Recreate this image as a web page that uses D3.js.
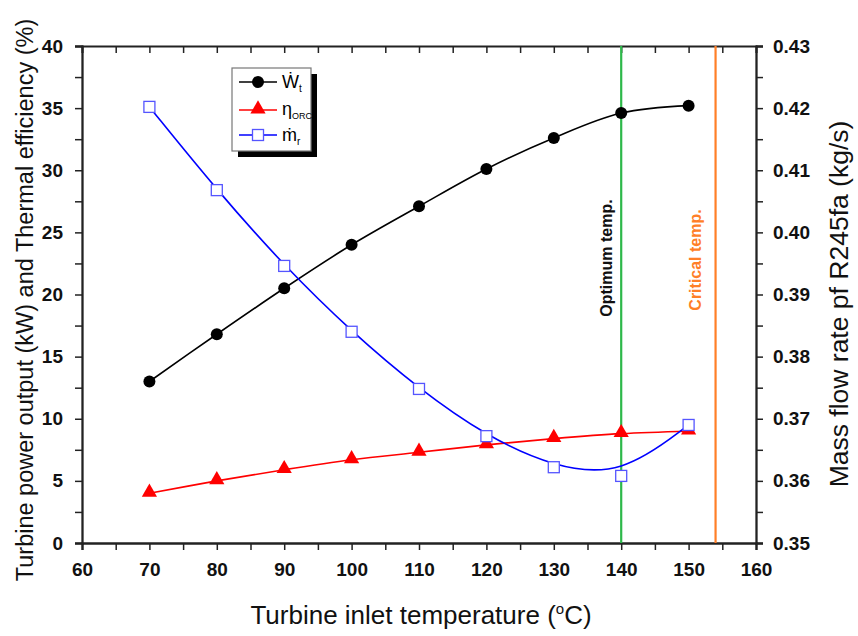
<!DOCTYPE html>
<html>
<head>
<meta charset="utf-8">
<script src="https://cdn.jsdelivr.net/npm/d3@7"></script>
<style>
  body { margin: 0; background: #fff; }
  svg text { font-family: "Liberation Sans", Arial, sans-serif; }
</style>
</head>
<body>
<div id="chart"></div>
<script>
const width = 858;
const height = 636;
const margin = {top: 46, right: 102, bottom: 93, left: 82};

// data
const temps = [70, 80, 90, 100, 110, 120, 130, 140, 150];
const power = [13.0, 16.8, 20.5, 24.0, 27.1, 30.1, 32.6, 34.6, 35.2];
const efficiency = [4.0, 5.0, 5.9, 6.7, 7.3, 7.9, 8.4, 8.8, 9.0];
const massFlow = [0.4202, 0.4068, 0.3946, 0.3840, 0.3748, 0.3672, 0.3622, 0.3608, 0.3690];
const optimumTemp = 140;
const criticalTemp = 154;

const xTicks = [60, 70, 80, 90, 100, 110, 120, 130, 140, 150, 160];
const leftTicks = [0, 5, 10, 15, 20, 25, 30, 35, 40];
const rightTicks = [0.35, 0.36, 0.37, 0.38, 0.39, 0.40, 0.41, 0.42, 0.43];

const svg = d3.select('#chart')
  .append('svg')
  .attr('width', width)
  .attr('height', height);

const x = d3.scaleLinear().domain([60, 160]).range([margin.left, width - margin.right]);
const yL = d3.scaleLinear().domain([0, 40]).range([height - margin.bottom, margin.top]);
const yR = d3.scaleLinear().domain([0.35, 0.43]).range([height - margin.bottom, margin.top]);

const bottom = height - margin.bottom;
const right = width - margin.right;

// minor ticks
const minorX = d3.range(65, 160, 10);
const minorL = d3.range(2.5, 40, 5);
const minorR = d3.range(0.355, 0.43, 0.01);

function styleAxis(g) {
  g.select('.domain').attr('stroke', '#222').attr('stroke-width', 1.8);
  g.selectAll('.tick line').attr('stroke', '#222').attr('stroke-width', 1.5);
  g.selectAll('.tick text')
    .attr('font-size', 19)
    .attr('font-weight', 'bold')
    .attr('fill', '#111');
}

// bottom axis
svg.append('g')
  .attr('transform', 'translate(0,' + bottom + ')')
  .call(d3.axisBottom(x).tickValues(xTicks).tickSize(7).tickPadding(13).tickFormat(d3.format('d')))
  .call(styleAxis);
svg.append('g')
  .attr('transform', 'translate(0,' + bottom + ')')
  .call(d3.axisBottom(x).tickValues(minorX).tickSize(7).tickFormat(''))
  .call(styleAxis);

// top axis (ticks inward, no labels)
svg.append('g')
  .attr('transform', 'translate(0,' + margin.top + ')')
  .call(d3.axisBottom(x).tickValues(xTicks.concat(minorX)).tickSize(7).tickFormat(''))
  .call(styleAxis);

// left axis
svg.append('g')
  .attr('transform', 'translate(' + margin.left + ',0)')
  .call(d3.axisLeft(yL).tickValues(leftTicks).tickSize(7).tickPadding(12).tickFormat(d3.format('d')))
  .call(styleAxis);
svg.append('g')
  .attr('transform', 'translate(' + margin.left + ',0)')
  .call(d3.axisLeft(yL).tickValues(minorL).tickSize(7).tickFormat(''))
  .call(styleAxis);

// right axis
svg.append('g')
  .attr('transform', 'translate(' + right + ',0)')
  .call(d3.axisRight(yR).tickValues(rightTicks).tickSize(7).tickPadding(10).tickFormat(d3.format('.2f')))
  .call(styleAxis);
svg.append('g')
  .attr('transform', 'translate(' + right + ',0)')
  .call(d3.axisRight(yR).tickValues(minorR).tickSize(7).tickFormat(''))
  .call(styleAxis);

// vertical reference lines
svg.append('line')
  .attr('x1', x(optimumTemp)).attr('x2', x(optimumTemp))
  .attr('y1', margin.top).attr('y2', bottom)
  .attr('stroke', '#2eb84a').attr('stroke-width', 2.2);
svg.append('line')
  .attr('x1', x(criticalTemp)).attr('x2', x(criticalTemp))
  .attr('y1', margin.top).attr('y2', bottom)
  .attr('stroke', '#ff7f27').attr('stroke-width', 2.2);

svg.append('text')
  .attr('transform', 'translate(' + (x(optimumTemp) - 9) + ',258) rotate(-90)')
  .attr('text-anchor', 'middle')
  .attr('font-size', 16)
  .attr('font-weight', 'bold')
  .attr('fill', '#111')
  .text('Optimum temp.');
svg.append('text')
  .attr('transform', 'translate(' + (x(criticalTemp) - 15) + ',260) rotate(-90)')
  .attr('text-anchor', 'middle')
  .attr('font-size', 16)
  .attr('font-weight', 'bold')
  .attr('fill', '#ff7f27')
  .text('Critical temp.');

// series
const powerLine = d3.line().x((d, i) => x(temps[i])).y(d => yL(d)).curve(d3.curveCatmullRom);
const massLine = d3.line().x((d, i) => x(temps[i])).y(d => yR(d)).curve(d3.curveBasis);

svg.append('path')
  .attr('d', powerLine(power))
  .attr('fill', 'none').attr('stroke', '#000').attr('stroke-width', 1.6);
svg.append('path')
  .attr('d', powerLine(efficiency))
  .attr('fill', 'none').attr('stroke', '#ff0000').attr('stroke-width', 1.6);
svg.append('path')
  .attr('d', massLine(massFlow))
  .attr('fill', 'none').attr('stroke', '#0000ff').attr('stroke-width', 1.6);

svg.selectAll('.pt-power')
  .data(power)
  .enter()
  .append('circle')
  .attr('cx', (d, i) => x(temps[i]))
  .attr('cy', d => yL(d))
  .attr('r', 6)
  .attr('fill', '#000');

const tri = d3.symbol().type(d3.symbolTriangle).size(100);
svg.selectAll('.pt-eff')
  .data(efficiency)
  .enter()
  .append('path')
  .attr('d', tri)
  .attr('transform', (d, i) => 'translate(' + x(temps[i]) + ',' + (yL(d) - 1) + ')')
  .attr('fill', '#ff0000');

svg.selectAll('.pt-mass')
  .data(massFlow)
  .enter()
  .append('rect')
  .attr('x', (d, i) => x(temps[i]) - 5.5)
  .attr('y', d => yR(d) - 5.5)
  .attr('width', 11)
  .attr('height', 11)
  .attr('fill', '#fff')
  .attr('stroke', '#5555ff')
  .attr('stroke-width', 1.3);

// legend
const legend = svg.append('g').attr('transform', 'translate(232,68)');
legend.append('rect')
  .attr('x', 6).attr('y', 6).attr('width', 79).attr('height', 83)
  .attr('fill', '#000');
legend.append('rect')
  .attr('x', 0).attr('y', 0).attr('width', 79).attr('height', 83)
  .attr('fill', '#fff').attr('stroke', '#777').attr('stroke-width', 1.2);

const rows = [14, 42, 67];
const colors = ['#000', '#ff0000', '#0000ff'];
rows.forEach((ry, i) => {
  legend.append('line')
    .attr('x1', 7).attr('x2', 45).attr('y1', ry).attr('y2', ry)
    .attr('stroke', colors[i]).attr('stroke-width', 1.6);
});
legend.append('circle').attr('cx', 26).attr('cy', rows[0]).attr('r', 6).attr('fill', '#000');
legend.append('path').attr('d', tri).attr('transform', 'translate(26,' + (rows[1] - 1) + ')').attr('fill', '#ff0000');
legend.append('rect').attr('x', 20.5).attr('y', rows[2] - 5.5).attr('width', 11).attr('height', 11)
  .attr('fill', '#fff').attr('stroke', '#5555ff').attr('stroke-width', 1.3);

const t1 = legend.append('text').attr('x', 50).attr('y', rows[0] + 6).attr('font-size', 18);
t1.append('tspan').text('\u1E86');
t1.append('tspan').attr('font-size', 10).attr('dy', 4).text('t');
const t2 = legend.append('text').attr('x', 50).attr('y', rows[1] + 5).attr('font-size', 18).attr('fill', '#000');
t2.append('tspan').text('\u03B7');
t2.append('tspan').attr('font-size', 9).attr('dy', 4).text('ORC');
const t3 = legend.append('text').attr('x', 50).attr('y', rows[2] + 6).attr('font-size', 18);
t3.append('tspan').text('\u1E41');
t3.append('tspan').attr('font-size', 10).attr('dy', 4).text('r');

// axis titles
const xt = svg.append('text')
  .attr('x', 421)
  .attr('y', 624)
  .attr('text-anchor', 'middle')
  .attr('font-size', 26)
  .attr('fill', '#111');
xt.append('tspan').text('Turbine inlet temperature (');
xt.append('tspan').attr('font-size', 15).attr('dy', -10).text('o');
xt.append('tspan').attr('dy', 10).text('C)');

svg.append('text')
  .attr('transform', 'translate(33,300) rotate(-90)')
  .attr('text-anchor', 'middle')
  .attr('font-size', 23.5)
  .attr('fill', '#111')
  .text('Turbine power output (kW) and Thermal efficiency (%)');

svg.append('text')
  .attr('transform', 'translate(848,304) rotate(-90)')
  .attr('text-anchor', 'middle')
  .attr('font-size', 26.5)
  .attr('fill', '#111')
  .text('Mass flow rate pf R245fa (kg/s)');
</script>
</body>
</html>
